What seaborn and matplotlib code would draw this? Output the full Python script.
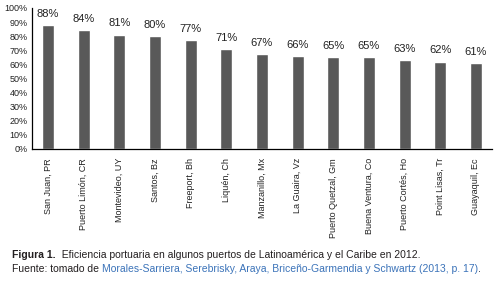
import matplotlib
matplotlib.use("Agg")
import matplotlib.pyplot as plt
import pandas as pd
import seaborn as sns
from matplotlib.ticker import PercentFormatter

puertos = ["San Juan, PR", "Puerto Limón, CR", "Montevideo, UY", "Santos, Bz",
           "Freeport, Bh", "Liquén, Ch", "Manzanillo, Mx", "La Guaira, Vz",
           "Puerto Quetzal, Gm", "Buena Ventura, Co", "Puerto Cortés, Ho",
           "Point Lisas, Tr", "Guayaquil, Ec"]
eficiencia = [88, 84, 81, 80, 77, 71, 67, 66, 65, 65, 63, 62, 61]
y_ticks = [0, 10, 20, 30, 40, 50, 60, 70, 80, 90, 100]

caption_bold = "Figura 1."
caption_1 = "  Eficiencia portuaria en algunos puertos de Latinoamérica y el Caribe en 2012."
caption_2a = "Fuente: tomado de "
caption_2b = "Morales-Sarriera, Serebrisky, Araya, Briceño-Garmendia y Schwartz (2013, p. 17)"
caption_2c = "."

data = pd.DataFrame({"puerto": puertos, "valor": eficiencia})

sns.set_style("white")
plt.rcParams["font.family"] = ["Liberation Sans", "DejaVu Sans"]

fig = plt.figure(figsize=(4.99, 2.83), dpi=100)
ax = fig.add_axes([0.064, 0.4735, 0.922, 0.4985])

sns.barplot(data=data, x="puerto", y="valor", color="#595959", saturation=1,
            width=0.33, ax=ax)

for i, v in enumerate(eficiencia):
    ax.annotate(f"{v}%", (i, v), xytext=(0, 4.5), textcoords="offset points",
                ha="center", va="bottom", fontsize=8, color="#222222")

ax.set_ylim(0, 100)
ax.set_yticks(y_ticks)
ax.yaxis.set_major_formatter(PercentFormatter(decimals=0))
ax.set_xlim(-0.45, len(puertos) - 0.55)
ax.set_xlabel("")
ax.set_ylabel("")
ax.tick_params(axis="y", length=0, pad=3, labelsize=6.5, labelcolor="#222222")
ax.tick_params(axis="x", length=0, pad=6.5, labelsize=6.5, labelcolor="#222222")
plt.setp(ax.get_xticklabels(), rotation=90, ha="center", va="top")
for side in ["top", "right"]:
    ax.spines[side].set_visible(False)
for side in ["left", "bottom"]:
    ax.spines[side].set_color("black")
    ax.spines[side].set_linewidth(0.9)

# pie de figura
cap_font = ["Liberation Sans Narrow", "Liberation Sans", "DejaVu Sans"]
t1 = fig.text(0.024, 0.088, caption_bold, fontsize=7.5, fontweight="bold",
              family=cap_font, color="#231f20", va="baseline")
fig.canvas.draw()
ax.annotate(caption_1, xy=(1, 0), xycoords=t1, va="bottom", ha="left",
            fontsize=7.5, family=cap_font, color="#231f20")
t2 = fig.text(0.024, 0.038, caption_2a, fontsize=7.5, family=cap_font,
              color="#231f20", va="baseline")
t3 = ax.annotate(caption_2b, xy=(1, 0), xycoords=t2, va="bottom", ha="left",
                 fontsize=7.5, family=cap_font, color="#3b73b9")
ax.annotate(caption_2c, xy=(1, 0), xycoords=t3, va="bottom", ha="left",
            fontsize=7.5, family=cap_font, color="#231f20")

fig.savefig("out.png", dpi=100)
